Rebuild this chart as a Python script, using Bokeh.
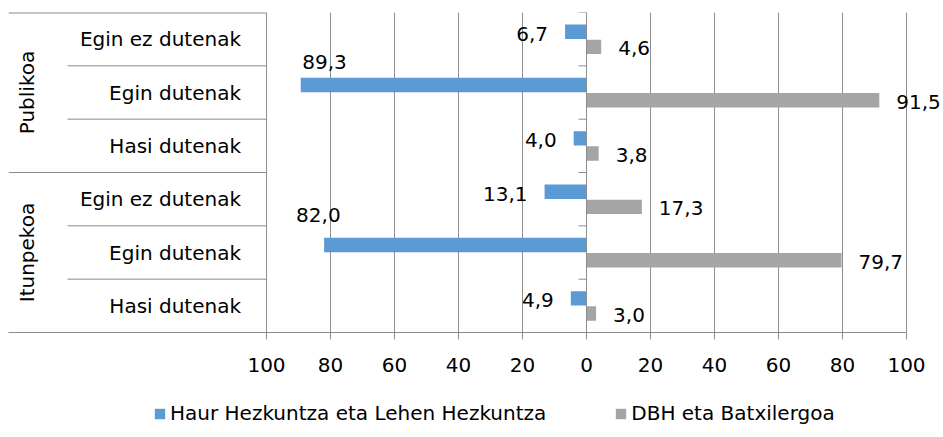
from bokeh.plotting import figure
from bokeh.models import (FactorRange, FixedTicker, Legend, LegendItem,
                          ColumnDataSource, Span, Range1d)
from bokeh.layouts import column
from bokeh.transform import dodge
from bokeh.core.properties import value
from bokeh.embed import file_html
from bokeh.resources import INLINE
import math

# ---------------- data ----------------
groups = ["Publikoa", "Itunpekoa"]
subgroups = ["Egin ez dutenak", "Egin dutenak", "Hasi dutenak"]
series_names = ["Haur Hezkuntza eta Lehen Hezkuntza", "DBH eta Batxilergoa"]
# order: Publikoa (Egin ez, Egin, Hasi), Itunpekoa (Egin ez, Egin, Hasi)
haur = [6.7, 89.3, 4.0, 13.1, 82.0, 4.9]
dbh = [4.6, 91.5, 3.8, 17.3, 79.7, 3.0]
tick_values = [-100, -80, -60, -40, -20, 0, 20, 40, 60, 80, 100]
tick_labels = ["100", "80", "60", "40", "20", "0", "20", "40", "60", "80", "100"]

# ---------------- style ----------------
FONT = "DejaVu Sans"
FS = "20px"
BLUE = "#5B9BD5"
GREY = "#A5A5A5"
LINE = "#8C8C8C"

cats = [(g, s) for g in groups for s in subgroups]
n = len(cats)

# pixel layout -> data range on x
frame_w = 935
px_per_unit = 3.2
x_start = -100 - 258 / px_per_unit
x_end = x_start + frame_w / px_per_unit

p = figure(frame_width=frame_w, frame_height=320, output_backend="svg",
           toolbar_location=None,
           y_range=FactorRange(factors=list(reversed(cats)), factor_padding=0,
                               group_padding=0, range_padding=0),
           x_range=Range1d(x_start, x_end), y_axis_location=None,
           min_border_left=8, min_border_right=0, min_border_top=12,
           min_border_bottom=52)
p.outline_line_color = None
p.background_fill_color = "white"
p.border_fill_color = "white"

ticker = FixedTicker(ticks=tick_values)
p.xgrid.ticker = ticker
p.xgrid.grid_line_color = LINE
p.ygrid.visible = False

ax = p.xaxis[0]
ax.ticker = ticker
ax.major_label_overrides = {v: l for v, l in zip(tick_values, tick_labels)}
ax.bounds = (x_start, 100)
ax.axis_line_color = LINE
ax.major_tick_line_color = LINE
ax.major_tick_in = 0
ax.major_tick_out = 7
ax.minor_tick_line_color = None
ax.major_label_text_font = FONT
ax.major_label_text_font_size = FS
ax.major_label_text_color = "black"
ax.major_label_standoff = 18

src = ColumnDataSource(dict(
    cat=cats,
    haur_neg=[-v for v in haur],
    dbh=dbh,
))

r_blue = p.hbar(y=dodge("cat", 0.14, range=p.y_range), left=0, right="haur_neg",
                height=0.27, fill_color=BLUE, line_color=None, source=src)
r_grey = p.hbar(y=dodge("cat", -0.145, range=p.y_range), left=0, right="dbh",
                height=0.27, fill_color=GREY, line_color=None, source=src)

# value labels
def fmt(v):
    return f"{v:.1f}".replace(".", ",")

big_dx = {89.3: 1.5, 82.0: -28}
big_dy = {89.3: -23, 82.0: -30}
blue_align, blue_dx, blue_dy = [], [], []
for v in haur:
    if v > 50:
        blue_align.append("left")
        blue_dx.append(big_dx.get(v, 0))
        blue_dy.append(big_dy.get(v, -24))
    else:
        blue_align.append("right")
        blue_dx.append(-17)
        blue_dy.append(2)

lab_blue = ColumnDataSource(dict(cat=cats, x=[-v for v in haur],
                                 t=[fmt(v) for v in haur], a=blue_align,
                                 dx=blue_dx, dy=blue_dy))
p.text(x="x", y=dodge("cat", 0.14, range=p.y_range), text="t", source=lab_blue,
       text_align="a", text_baseline="middle", x_offset="dx", y_offset="dy",
       text_font=value(FONT), text_font_size=FS, text_color="black")

lab_grey = ColumnDataSource(dict(cat=cats, x=dbh, t=[fmt(v) for v in dbh]))
p.text(x="x", y=dodge("cat", -0.145, range=p.y_range), text="t", source=lab_grey,
       text_align="left", text_baseline="middle", x_offset=17, y_offset=1.5,
       text_font=value(FONT), text_font_size=FS, text_color="black")

# category axis at zero
p.add_layout(Span(location=0, dimension="height", line_color=LINE, line_width=1))
bounds = list(range(n + 1))
p.segment(x0=[-2.5] * len(bounds), x1=[0] * len(bounds), y0=bounds, y1=bounds,
          line_color=LINE, line_width=1)

# table-like category labels on the left
group_bounds = [b for b in bounds if b % len(subgroups) == 0]
sub_bounds = [b for b in bounds if b % len(subgroups) != 0]
x_sub_line = -100 - 199 / px_per_unit
p.segment(x0=[x_start] * len(group_bounds), x1=[-100] * len(group_bounds),
          y0=group_bounds, y1=group_bounds, line_color=LINE,
          line_width=[2 if b == n else 1 for b in group_bounds])
p.segment(x0=[x_sub_line] * len(sub_bounds), x1=[-100] * len(sub_bounds),
          y0=sub_bounds, y1=sub_bounds, line_color=LINE, line_width=1)

sub_src = ColumnDataSource(dict(cat=cats, t=[c[1] for c in cats]))
p.text(x=-100 - 25.5 / px_per_unit, y="cat", text="t", source=sub_src,
       text_align="right", text_baseline="middle",
       text_font=value(FONT), text_font_size=FS, text_color="black")

grp_src = ColumnDataSource(dict(g=groups))
p.text(x=-100 - 240 / px_per_unit, y="g", text="g", source=grp_src,
       angle=math.pi / 2, text_align="center", text_baseline="middle",
       text_font=value(FONT), text_font_size=FS, text_color="black")

# ---------------- legend strip ----------------
leg_h = 437 - (12 + 320 + 52)
p2 = figure(width=943, height=leg_h, output_backend="svg", toolbar_location=None,
            x_range=Range1d(0, 943), y_range=Range1d(0, leg_h),
            x_axis_location=None, y_axis_location=None,
            min_border_left=0, min_border_right=0, min_border_top=0,
            min_border_bottom=0)
p2.outline_line_color = None
p2.xgrid.visible = False
p2.ygrid.visible = False
# key renderers kept outside the visible strip; only their legend swatches show
k_blue = p2.hbar(y=[-1000], right=[-999], left=[-1000], height=1,
                 fill_color=BLUE, line_color=None)
k_grey = p2.hbar(y=[-1000], right=[-999], left=[-1000], height=1,
                 fill_color=GREY, line_color=None)

legend = Legend(items=[LegendItem(label=series_names[0], renderers=[k_blue]),
                       LegendItem(label=series_names[1], renderers=[k_grey])],
                orientation="horizontal", location=(145, 12),
                glyph_width=13, glyph_height=13, label_standoff=4, spacing=68,
                padding=0, margin=0, border_line_color=None,
                background_fill_alpha=0,
                label_text_font=FONT, label_text_font_size=FS,
                label_text_color="black", label_height=22)
p2.add_layout(legend, "center")

layout = column(p, p2, spacing=0)
open("out.html", "w").write(file_html(layout, INLINE))
